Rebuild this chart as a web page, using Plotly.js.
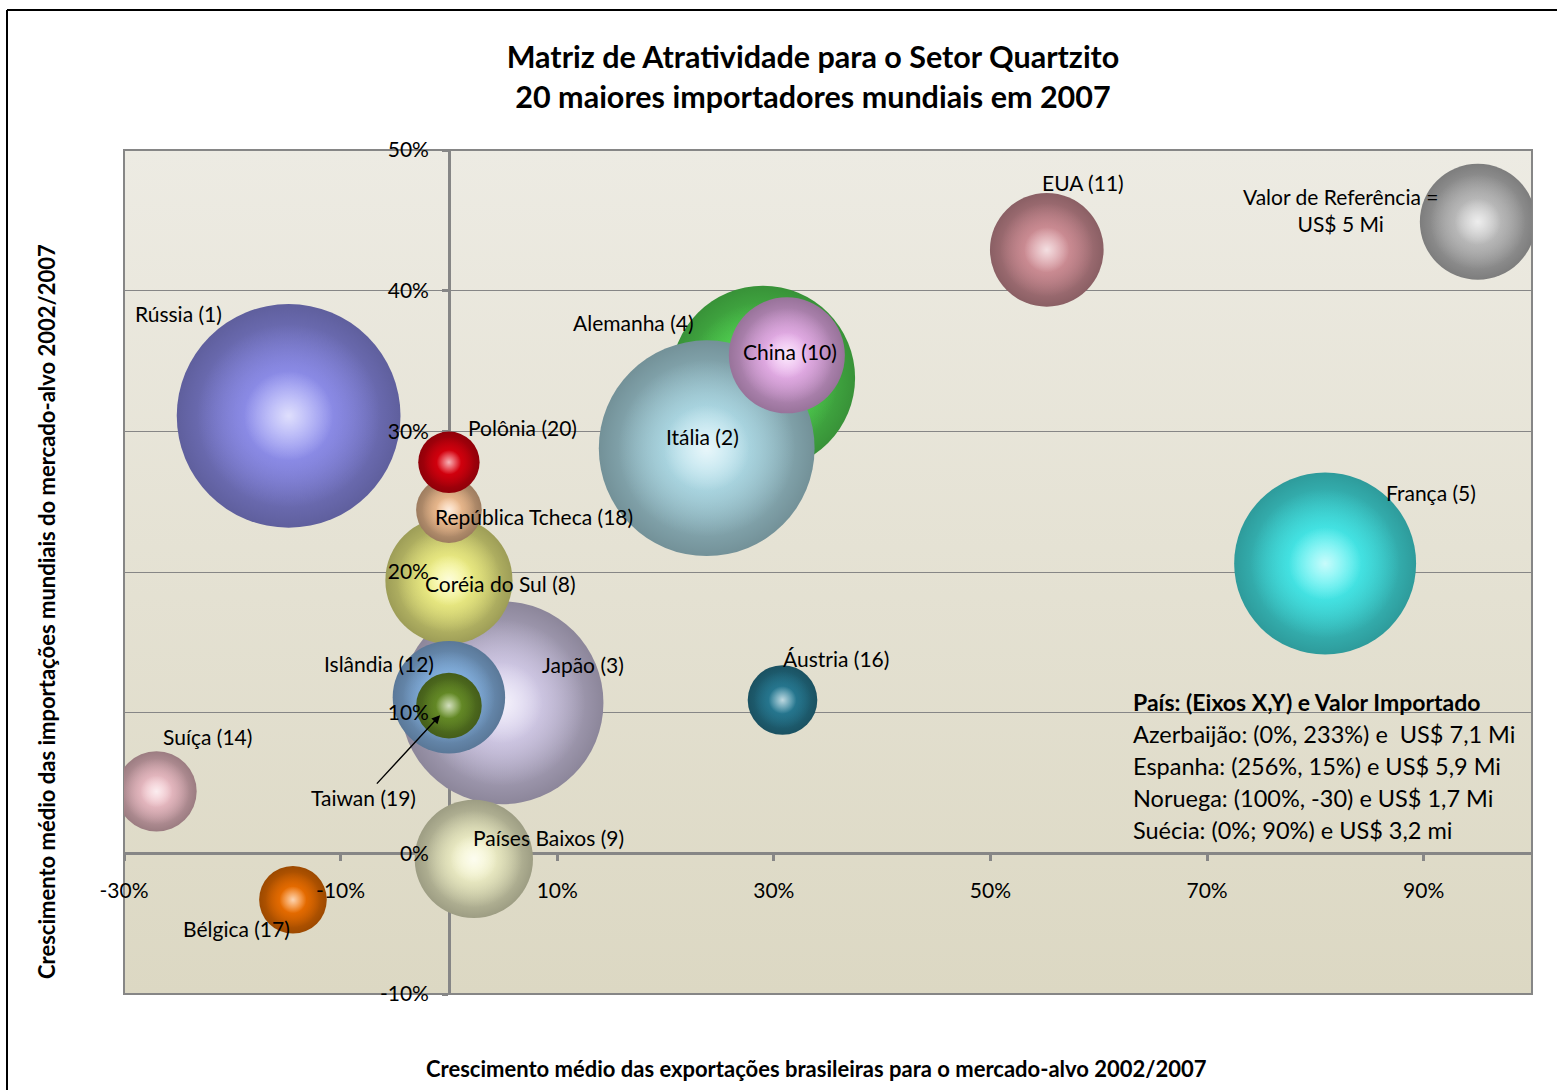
<!DOCTYPE html>
<html><head><meta charset="utf-8">
<script src="https://cdn.plot.ly/plotly-3.0.1.min.js"></script>
<style>html,body{margin:0;padding:0;background:#fff;}#chart{width:1557px;height:1090px;}</style>
</head><body><div id="chart"></div>
<script>
// ---------- DATA (draw order: back to front) ----------
const countries = ['Valor de Referência', 'EUA', 'França', 'Rússia', 'Alemanha', 'Itália', 'China', 'Áustria', 'Japão', 'Países Baixos', 'Coréia do Sul', 'República Tcheca', 'Polônia', 'Islândia', 'Taiwan', 'Suíça', 'Bélgica'];
const ranks = [null, 11, 5, 1, 4, 2, 10, 16, 3, 9, 8, 18, 20, 12, 19, 14, 17];
const exportGrowth = [95, 55.2, 80.9, -14.8, 29.0, 23.8, 31.2, 30.8, 4.9, 2.3, 0, 0, 0, 0, 0, -27.0, -14.4];
const importGrowth = [44.9, 42.9, 20.6, 31.1, 33.8, 28.8, 35.4, 10.9, 10.7, -0.4, 19.4, 24.4, 27.8, 11.1, 10.5, 4.4, -3.3];
const importValue = [5.0, 4.8, 12.3, 18.6, 12.6, 17.3, 5.0, 1.8, 15.3, 5.2, 6.0, 1.6, 1.4, 4.7, 1.6, 2.4, 1.7];
const xTickVals = [-30, -10, 10, 30, 50, 70, 90];
const xTickText = ['-30%', '-10%', '10%', '30%', '50%', '70%', '90%'];
const yTickVals = [-10, 0, 10, 20, 30, 40, 50];
const yTickText = ['-10%', '0%', '10%', '20%', '30%', '40%', '50%'];
const chartTitle = 'Matriz de Atratividade para o Setor Quartzito<br>20 maiores importadores mundiais em 2007';
const xTitle = 'Crescimento médio das exportações brasileiras para o mercado-alvo 2002/2007';
const yTitle = 'Crescimento médio das importações mundiais do mercado-alvo 2002/2007';
const notesTitle = 'País: (Eixos X,Y) e Valor Importado';
const notes = ['Azerbaijão: (0%, 233%) e  US$ 7,1 Mi', 'Espanha: (256%, 15%) e US$ 5,9 Mi', 'Noruega: (100%, -30) e US$ 1,7 Mi', 'Suécia: (0%; 90%) e US$ 3,2 mi'];

// ---------- STYLE ----------
const baseColors = ['#c4c4c4', '#d8949c', '#48f2f2', '#9494f6', '#58e458', '#b4e2ee', '#eeb4f0', '#287e98', '#dad2f0', '#f6f6cc', '#f6f688', '#f6c294', '#e0000e', '#8cbcee', '#6a9228', '#f2c2ca', '#f47200'];
// label offsets in pixels relative to bubble centre (dx, dy downwards)
const labelOffsets = [[-137, -12], [36, -67], [106, -71], [-110, -102], [-130, -55], [-4, -12], [3, -4], [53, -42], [81, -38], [75, -21], [52, 3], [85, 6], [74, -35], [-70, -34], [-85, 92], [51, -55], [-56, 29]];
const FONT = 'Lato, "Open Sans", sans-serif';
const refDiameter = 116; // px for reference value
const sizeref = 2 * importValue[0] / (refDiameter * refDiameter);

function hexToRgb(h) { h = h.replace('#', ''); return [parseInt(h.substr(0, 2), 16), parseInt(h.substr(2, 2), 16), parseInt(h.substr(4, 2), 16)]; }
function mix(h, target, t, a) { const c = hexToRgb(h).map((v, i) => Math.round(v + (target[i] - v) * t)); return a === undefined ? 'rgb(' + c.join(',') + ')' : 'rgba(' + c.join(',') + ',' + a + ')'; }

const traces = [];
function layer(i, scale, edge, centre) {
  return {
    type: 'scatter', mode: 'markers', x: [exportGrowth[i]], y: [importGrowth[i]],
    name: countries[i], showlegend: false, hoverinfo: 'skip', cliponaxis: true,
    marker: { size: [importValue[i]], sizemode: 'area', sizeref: sizeref / (scale * scale), opacity: 1,
      color: edge, gradient: { type: 'radial', color: centre }, line: { width: 0 } }
  };
}
countries.forEach((name, i) => {
  const c = baseColors[i];
  traces.push(layer(i, 1, mix(c, [0, 0, 0], 0.36), c));
  traces.push(layer(i, 0.82, mix(c, [0, 0, 0], 0, 0), mix(c, [0, 0, 0], 0, 1)));
  traces.push(layer(i, 0.4, 'rgba(255,255,255,0)', 'rgba(255,255,255,0.7)'));
});
// empty trace to create the overlay subplot carrying the tick labels
traces.push({ type: 'scatter', x: [], y: [], xaxis: 'x2', yaxis: 'y2', showlegend: false, hoverinfo: 'skip' });

const LABEL_SIZE = 21;
const annotations = [];
countries.forEach((name, i) => {
  const txt = ranks[i] === null ? name + ' =<br>US$ ' + String(importValue[i]).replace('.0', '') + ' Mi' : name + ' (' + ranks[i] + ')';
  const off = labelOffsets[i];
  if (name === 'Taiwan') {
    annotations.push({ x: exportGrowth[i], y: importGrowth[i], xref: 'x', yref: 'y', text: txt,
      showarrow: true, ax: off[0], ay: off[1], arrowhead: 2, arrowsize: 1.2, arrowwidth: 1.4, arrowcolor: '#000', standoff: 13,
      font: { family: FONT, size: LABEL_SIZE, color: '#000' } });
  } else {
    annotations.push({ x: exportGrowth[i], y: importGrowth[i], xref: 'x', yref: 'y', text: txt, showarrow: false,
      xshift: off[0], yshift: -off[1], xanchor: 'center', yanchor: 'middle', align: 'center',
      font: { family: FONT, size: LABEL_SIZE, color: '#000' } });
  }
});
// px -> paper helpers for layout-only items
const L = 124, R = 25, T = 150, B = 96, W = 1557, H = 1090;
const pw = W - L - R, ph = H - T - B;
const px = v => (v - L) / pw, py = v => (H - B - v) / ph;

annotations.push({ xref: 'paper', yref: 'paper', x: px(1131), y: py(702), xanchor: 'left', yanchor: 'middle', showarrow: false,
  text: '<b>' + notesTitle + '</b>', font: { family: FONT, size: 23, color: '#000' } });
notes.forEach((t, k) => annotations.push({ xref: 'paper', yref: 'paper', x: px(1131), y: py(734 + 32 * k), xanchor: 'left', yanchor: 'middle', showarrow: false,
  text: t, font: { family: FONT, size: 23.5, color: '#000' } }));
annotations.push({ xref: 'paper', yref: 'paper', x: px(816), y: py(1068), xanchor: 'center', yanchor: 'middle', showarrow: false,
  text: '<b>' + xTitle + '</b>', font: { family: FONT, size: 22, color: '#000' } });
annotations.push({ xref: 'paper', yref: 'paper', x: px(46), y: py(612), xanchor: 'center', yanchor: 'middle', showarrow: false, textangle: -90,
  text: '<b>' + yTitle + '</b>', font: { family: FONT, size: 22, color: '#000' } });

const bgSvg = "<svg xmlns='http://www.w3.org/2000/svg' width='100' height='100' viewBox='0 0 100 100' preserveAspectRatio='none'><defs><linearGradient id='g' x1='0' y1='0' x2='0' y2='1'><stop offset='0' stop-color='#EDEBE3'/><stop offset='1' stop-color='#DCD8C3'/></linearGradient></defs><rect width='100' height='100' fill='url(#g)'/></svg>";

const xRange = [-30, 100], yRange = [-10, 50];
const xZeroPos = (0 - yRange[0]) / (yRange[1] - yRange[0]);
const yZeroPos = (0 - xRange[0]) / (xRange[1] - xRange[0]);
const axisCol = '#868686';

const layout = {
  width: W, height: H,
  margin: { l: L, r: R, t: T, b: B, pad: 0 },
  paper_bgcolor: '#ffffff', plot_bgcolor: 'rgba(0,0,0,0)',
  font: { family: FONT, color: '#000' },
  showlegend: false,
  title: { text: '<b>' + chartTitle + '</b>', xref: 'paper', x: px(813), xanchor: 'center', yref: 'container', y: 1 - 68 / H, yanchor: 'middle',
    font: { family: FONT, size: 30.5, color: '#000' } },
  xaxis: { range: xRange, anchor: 'free', position: xZeroPos, tickmode: 'array', tickvals: xTickVals, ticktext: xTickText,
    showticklabels: false, ticks: 'outside', ticklen: 6, tickwidth: 3, tickcolor: axisCol,
    showline: true, linecolor: axisCol, linewidth: 3, showgrid: false, zeroline: false, layer: 'below traces', automargin: false, fixedrange: true },
  yaxis: { range: yRange, anchor: 'free', position: yZeroPos, tickmode: 'array', tickvals: yTickVals, ticktext: yTickText,
    showticklabels: false, ticks: 'outside', ticklen: 6, tickwidth: 3, tickcolor: axisCol,
    showline: true, linecolor: axisCol, linewidth: 3, showgrid: true, gridcolor: axisCol, gridwidth: 1, zeroline: false, layer: 'below traces', automargin: false, fixedrange: true },
  xaxis2: { overlaying: 'x', range: xRange, anchor: 'free', position: xZeroPos, side: 'bottom', tickmode: 'array', tickvals: xTickVals, ticktext: xTickText,
    ticks: '', showline: false, showgrid: false, zeroline: false, ticklabelstandoff: 23, tickfont: { family: FONT, size: 21, color: '#000' }, layer: 'above traces', automargin: false },
  yaxis2: { overlaying: 'y', range: yRange, anchor: 'free', position: yZeroPos, side: 'left', tickmode: 'array', tickvals: yTickVals, ticktext: yTickText,
    ticks: '', showline: false, showgrid: false, zeroline: false, ticklabelstandoff: 20, tickfont: { family: FONT, size: 21, color: '#000' }, layer: 'above traces', automargin: false },
  images: [{ source: 'data:image/svg+xml;charset=utf-8,' + encodeURIComponent(bgSvg), xref: 'paper', yref: 'paper', x: 0, y: 1, sizex: 1, sizey: 1,
    xanchor: 'left', yanchor: 'top', sizing: 'stretch', layer: 'below' }],
  shapes: [
    { type: 'rect', xref: 'paper', yref: 'paper', x0: 0, x1: 1, y0: 0, y1: 1, line: { color: axisCol, width: 2 }, fillcolor: 'rgba(0,0,0,0)', layer: 'below' },
    { type: 'line', xref: 'paper', yref: 'paper', x0: px(7), x1: px(7), y0: py(H + 10), y1: py(10), line: { color: '#000', width: 2 } },
    { type: 'line', xref: 'paper', yref: 'paper', x0: px(7), x1: px(W + 10), y0: py(10), y1: py(10), line: { color: '#000', width: 2 } }
  ],
  annotations: annotations
};

Plotly.newPlot('chart', traces, layout, { displayModeBar: false, responsive: false });
</script>
</body></html>
